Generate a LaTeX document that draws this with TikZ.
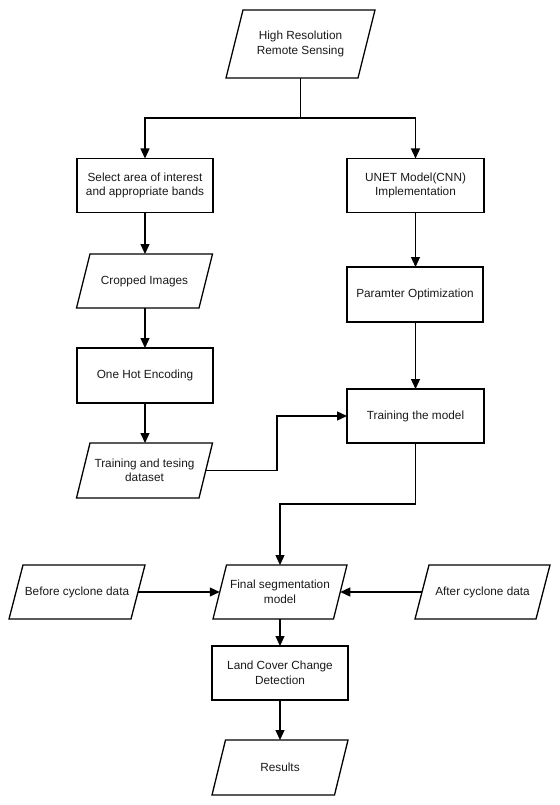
\documentclass[tikz,border=0pt]{standalone}
\usepackage{fontspec}
\setmainfont{Liberation Sans}
\usetikzlibrary{arrows.meta}
\tikzset{
  base/.style={outer sep=0pt, inner sep=2pt, align=center, font=\fontsize{11.8}{14.5}\selectfont, text=black!90},
  box/.style={base, draw, line width=1.3pt, minimum width=136pt, minimum height=54pt},
  para/.style={base, minimum width=136pt, minimum height=54pt,
    append after command={\pgfextra{\draw[line width=1.3pt, line join=miter]
      ([xshift=#1]\tikzlastnode.north west) -- (\tikzlastnode.north east)
      -- ([xshift=-#1]\tikzlastnode.south east) -- (\tikzlastnode.south west) -- cycle;}}},
  para/.default=13.5pt,
  arr/.style={line width=1.3pt, -{Triangle[length=10pt,width=9pt]}},
  ln/.style={line width=1.3pt}
}
\begin{document}
\begin{tikzpicture}[x=1pt,y=-1pt]
\useasboundingbox (0,0) rectangle (559,805);
\node[para=17pt, minimum width=149pt, minimum height=68pt] (hr) at (300.5,44) {High Resolution\\Remote Sensing};
\node[box] (sel) at (145,185.5) {Select area of interest\\and appropriate bands};
\node[box, minimum width=137pt] (unet) at (415.5,185.5) {UNET Model(CNN)\\Implementation};
\node[para] (crop) at (144.5,281) {Cropped Images};
\node[box, minimum height=55pt] (onehot) at (145,375.5) {One Hot Encoding};
\node[para, minimum height=55pt] (ttd) at (144.5,470.5) {Training and tesing\\dataset};
\node[box, minimum height=55pt] (param) at (415,294.5) {Paramter Optimization};
\node[box, minimum width=137pt] (train) at (415.5,416) {Training the model};
\node[para=14pt] (before) at (77,592) {Before cyclone data};
\node[para, minimum width=134pt] (final) at (280,592) {Final segmentation\\model};
\node[para=14pt, minimum width=135pt] (after) at (482.5,592) {After cyclone data};
\node[box] (lccd) at (280,673) {Land Cover Change\\Detection};
\node[para, minimum height=55pt] (res) at (280,767.5) {Results};

\coordinate (split) at (300.5,118);
\coordinate (j1) at (277,470.5);
\coordinate (j2) at (280,504);

\draw[ln] (hr.south) -- (split);
\draw[arr] (split) -| (sel.north);
\draw[arr] (split) -| (unet.north);
\draw[arr] (sel.south) -- (crop.north -| sel.south);
\draw[arr] (crop.south -| onehot.north) -- (onehot.north);
\draw[arr] (onehot.south) -- (ttd.north -| onehot.south);
\draw[arr] (unet.south) -- (param.north -| unet.south);
\draw[arr] (param.south -| train.north) -- (train.north);
\draw[arr] ([xshift=-6.75pt]ttd.east) -- (j1) |- (train.west);
\draw[arr] (train.south) |- (j2) -- (final.north);
\draw[arr] ([xshift=-7pt]before.east) -- ([xshift=6.75pt]final.west);
\draw[arr] ([xshift=7pt]after.west) -- ([xshift=-6.75pt]final.east);
\draw[arr] (final.south) -- (lccd.north);
\draw[arr] (lccd.south) -- (res.north);
\end{tikzpicture}
\end{document}
